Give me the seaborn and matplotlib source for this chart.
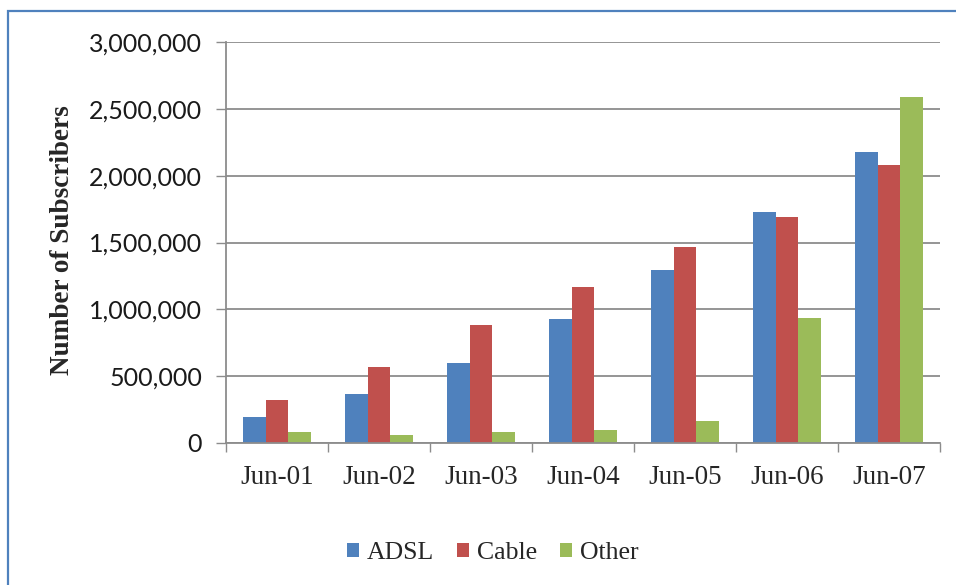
import matplotlib
matplotlib.use("Agg")
import matplotlib.pyplot as plt
import matplotlib.patches as mpatches
import seaborn as sns
import pandas as pd
from matplotlib.ticker import FuncFormatter, FixedLocator

categories = ["Jun-01", "Jun-02", "Jun-03", "Jun-04", "Jun-05", "Jun-06", "Jun-07"]
adsl = [195000, 365000, 595000, 930000, 1295000, 1730000, 2180000]
cable = [320000, 565000, 880000, 1170000, 1470000, 1690000, 2080000]
other = [80000, 60000, 80000, 100000, 165000, 935000, 2590000]
series_names = ["ADSL", "Cable", "Other"]
colors = ["#4F81BD", "#C0504D", "#9BBB59"]
y_ticks = [0, 500000, 1000000, 1500000, 2000000, 2500000, 3000000]

rows = []
for name, vals in zip(series_names, [adsl, cable, other]):
    for c, v in zip(categories, vals):
        rows.append({"Month": c, "Type": name, "Subscribers": v})
df = pd.DataFrame(rows)

sns.set_style("white")
plt.rcParams["font.family"] = ["Liberation Serif", "DejaVu Sans"]

fig = plt.figure(figsize=(9.56, 5.85), dpi=100)
ax = fig.add_axes([226/956, 1-443/585, (940-226)/956, (443-42)/585])

sns.barplot(data=df, x="Month", y="Subscribers", hue="Type", order=categories,
            hue_order=series_names, palette=colors, width=0.667, gap=0,
            saturation=1, ax=ax, legend=True, linewidth=0)

ax.set_ylim(0, 3000000)
ax.set_xlim(-0.5, len(categories) - 0.5)
ax.set_yticks(y_ticks)
ax.yaxis.set_major_formatter(FuncFormatter(lambda v, p: f"{int(v):,}"))
ax.yaxis.grid(True, color="#8C8C8C", linewidth=1.3)
ax.set_axisbelow(True)

for lab in ax.get_yticklabels():
    lab.set_fontfamily(["Lato", "DejaVu Sans"])
    lab.set_fontsize(18)
    lab.set_color("#1a1a1a")
ax.tick_params(axis="y", which="major", length=7.2, width=1.0, color="#8C8C8C",
               pad=10, left=True, direction="out")

# x ticks: marks at boundaries, labels at centers
ax.xaxis.set_major_locator(FixedLocator([i - 0.5 for i in range(len(categories) + 1)]))
ax.xaxis.set_minor_locator(FixedLocator(list(range(len(categories)))))
ax.set_xticklabels([], minor=False)
ax.set_xticklabels(categories, minor=True, fontsize=19.5)
ax.tick_params(axis="x", which="major", length=6.5, width=1.0, color="#8C8C8C",
               bottom=True, direction="out")
ax.tick_params(axis="x", which="minor", length=0, pad=16)

for s in ["top", "right"]:
    ax.spines[s].set_visible(False)
for s in ["left", "bottom"]:
    ax.spines[s].set_color("#8C8C8C")
    ax.spines[s].set_linewidth(1.3)

ax.set_xlabel("")
ax.set_ylabel("Number of Subscribers", fontsize=19.5, fontweight="bold")
ax.yaxis.set_label_coords((75-226)/714, 0.505)

handles, labels = ax.get_legend_handles_labels()
ax.get_legend().remove()
fig.legend(handles, labels, loc="center", bbox_to_anchor=(493/956, 1-553/585), ncol=3,
           frameon=False, fontsize=18.5, handlelength=0.47, handleheight=0.47,
           handletextpad=0.3, columnspacing=0.9)

border = mpatches.Rectangle((8/956, -0.1), 1.2, 1 - 11/585 + 0.1, transform=fig.transFigure,
                            fill=False, edgecolor="#4F81BD", linewidth=1.6, clip_on=False)
fig.patches.append(border)

fig.savefig("out.png", dpi=100, facecolor="white")
